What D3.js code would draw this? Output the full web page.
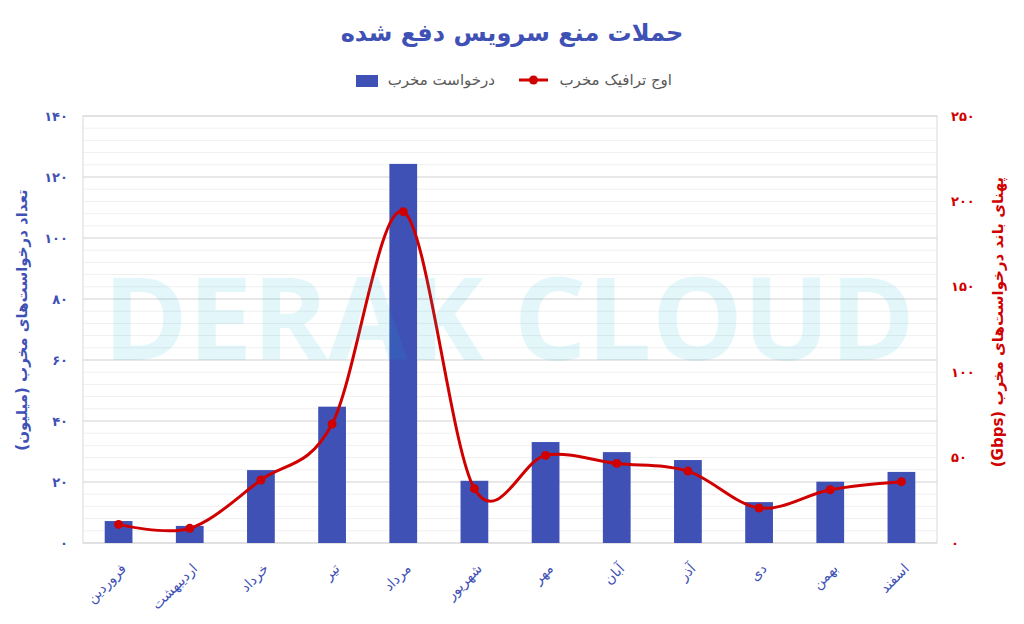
<!DOCTYPE html>
<html><head><meta charset="utf-8">
<script src="https://cdn.jsdelivr.net/npm/d3@7"></script>
<style>
html,body{margin:0;padding:0;background:#fff;}
svg{display:block;}
text{font-family:"DejaVu Sans","Noto Sans",sans-serif;}
</style></head>
<body><svg id="c" width="1024" height="624"></svg>
<script>
const months = ["فروردین","اردیبهشت","خرداد","تیر","مرداد","شهریور","مهر","آبان","آذر","دی","بهمن","اسفند"];
const requests = [7.2, 5.6, 23.9, 44.7, 124.3, 20.4, 33.1, 29.8, 27.2, 13.4, 20.1, 23.3];
const traffic = [10.9, 8.6, 36.9, 69.7, 194, 31.8, 51.3, 46.6, 42.1, 20.5, 31.2, 35.9];
const leftTicks = [0,20,40,60,80,100,120,140];
const rightTicks = [0,50,100,150,200,250];
const titleText = "حملات منع سرویس دفع شده";
const seriesBar = "درخواست مخرب";
const seriesLine = "اوج ترافیک مخرب";
const leftTitle = "تعداد درخواست‌های مخرب (میلیون)";
const rightTitle = "پهنای باند درخواست‌های مخرب (Gbps)";
const watermark = "DERAK CLOUD";

const fa = n => String(n).replace(/\d/g, d => "۰۱۲۳۴۵۶۷۸۹"[d]);
const BLUE = "#3f51b5", RED = "#d00000";
const svg = d3.select("#c");
const L = 83, R = 937, T = 116, B = 543;

const x = d3.scaleBand().domain(months).range([L, R]).paddingInner(0.61).paddingOuter(0.305);
const xc = d3.scaleBand().domain(months).range([L, R]);
const yL = d3.scaleLinear().domain([0,140]).range([B, T]);
const yR = d3.scaleLinear().domain([0,250]).range([B, T]);

// gridlines
const g = svg.append("g");
g.selectAll("line.minor").data(d3.range(0,141,4)).join("line")
  .attr("x1", L).attr("x2", R).attr("y1", d=>yL(d)).attr("y2", d=>yL(d))
  .attr("stroke", "#f0f0f0").attr("stroke-width", 1);
g.selectAll("line.major").data(leftTicks).join("line")
  .attr("x1", L).attr("x2", R).attr("y1", d=>yL(d)).attr("y2", d=>yL(d))
  .attr("stroke", "#d9d9d9").attr("stroke-width", 1);
svg.append("rect").attr("x", L).attr("y", T).attr("width", R-L).attr("height", B-T)
  .attr("fill", "none").attr("stroke", "#d9d9d9");

// bars
svg.append("g").selectAll("rect").data(months).join("rect")
  .attr("x", d=>x(d)).attr("width", x.bandwidth())
  .attr("y", (d,i)=>yL(requests[i])).attr("height", (d,i)=>B - yL(requests[i]))
  .attr("fill", BLUE);

// line
const line = d3.line().x((d,i)=>xc(months[i]) + xc.bandwidth()/2).y(d=>yR(d)).curve(d3.curveCardinal.tension(0));
svg.append("path").datum(traffic).attr("d", line).attr("fill","none").attr("stroke", RED).attr("stroke-width", 3);
svg.append("g").selectAll("circle").data(traffic).join("circle")
  .attr("cx", (d,i)=>xc(months[i]) + xc.bandwidth()/2).attr("cy", d=>yR(d)).attr("r", 4.5).attr("fill", RED);

// watermark
svg.append("text").attr("x", 509).attr("y", 360).attr("text-anchor","middle")
  .attr("font-weight","bold").attr("font-size", 115)
  .attr("textLength", 812).attr("lengthAdjust","spacingAndGlyphs")
  .style("font-family","'Open Sans',sans-serif")
  .attr("fill", "rgba(0,180,210,0.11)").text(watermark);

// left axis ticks
svg.append("g").selectAll("text").data(leftTicks).join("text")
  .attr("x", 68).attr("y", d=>yL(d)).attr("dy","0.35em").attr("text-anchor","end")
  .attr("font-size", 13).attr("font-weight","bold").attr("fill", BLUE).text(d=>fa(d));
// right axis ticks
svg.append("g").selectAll("text").data(rightTicks).join("text")
  .attr("x", 951).attr("y", d=>yR(d)).attr("dy","0.35em").attr("text-anchor","start")
  .attr("font-size", 13).attr("font-weight","bold").attr("fill", RED).text(d=>fa(d));

// x labels
svg.append("g").selectAll("text").data(months).join("text")
  .attr("transform", d=>`translate(${xc(d)+xc.bandwidth()/2+5},566) rotate(-45)`)
  .attr("text-anchor","end").attr("dy","0.35em")
  .attr("font-size", 14).attr("fill", BLUE).text(d=>d);

// axis titles
svg.append("text").attr("transform","translate(22,320) rotate(-90)").attr("text-anchor","middle").attr("dy","0.35em")
  .attr("font-size", 15).attr("font-weight","bold").attr("fill", BLUE).attr("direction","rtl").text(leftTitle);
svg.append("text").attr("transform","translate(998,322) rotate(-90)").attr("text-anchor","middle").attr("dy","0.35em")
  .attr("font-size", 15).attr("font-weight","bold").attr("fill", RED).attr("direction","rtl").text(rightTitle);

// title
svg.append("text").attr("x", 512).attr("y", 33).attr("text-anchor","middle").attr("dy","0.35em")
  .attr("font-size", 24).attr("font-weight","bold").attr("fill", BLUE).text(titleText);

// legend
const lg = svg.append("g");
lg.append("text").attr("x", 672).attr("y", 80).attr("dy","0.35em").attr("text-anchor","end")
  .attr("font-size", 15).attr("fill","#595959").text(seriesLine);
lg.append("line").attr("x1", 519).attr("x2", 548).attr("y1", 80).attr("y2", 80).attr("stroke", RED).attr("stroke-width", 3);
lg.append("circle").attr("cx", 533.5).attr("cy", 80).attr("r", 4.5).attr("fill", RED);
lg.append("text").attr("x", 495).attr("y", 80).attr("dy","0.35em").attr("text-anchor","end")
  .attr("font-size", 15).attr("fill","#595959").text(seriesBar);
lg.append("rect").attr("x", 356).attr("y", 75).attr("width", 22).attr("height", 12).attr("fill", BLUE);
</script></body></html>
